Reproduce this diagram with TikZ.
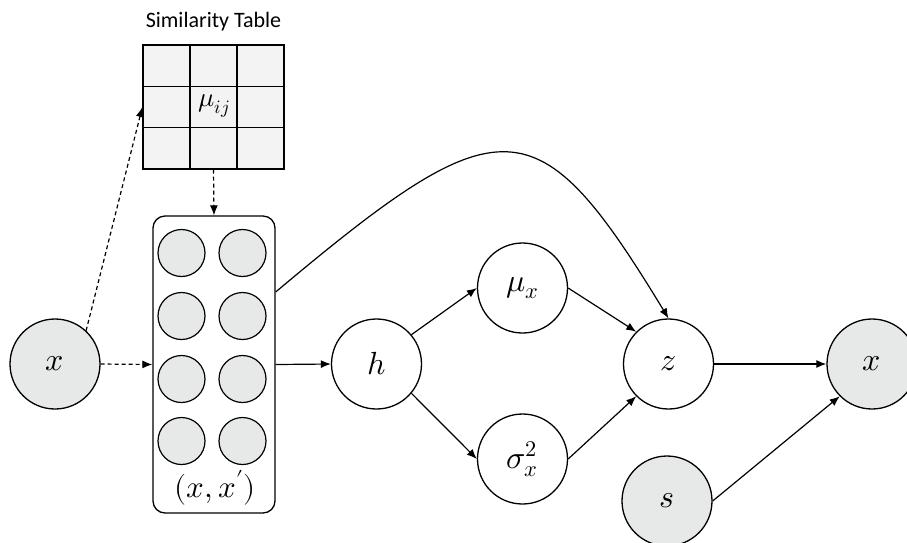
\documentclass[tikz,border=0pt]{standalone}
\usepackage{fontspec}
\usepackage{unicode-math}
\setmathfont{Latin Modern Math}
\newfontfamily\carl{Carlito}
\usetikzlibrary{arrows.meta}
\definecolor{obsgray}{RGB}{231,232,232}
\definecolor{tabgray}{RGB}{243,243,243}
\begin{document}
\begin{tikzpicture}[x=1pt,y=-1pt,
  vnode/.style={circle, draw, line width=1.3pt, minimum size=90pt, inner sep=0pt, font=\fontsize{32}{36}\selectfont},
  obs/.style={vnode, fill=obsgray},
  unit/.style={circle, draw, line width=1.2pt, fill=obsgray, minimum size=47pt, inner sep=0pt},
  arr/.style={-{Latex[length=10pt,width=8pt]}, line width=1.2pt},
  dsh/.style={arr, dash pattern=on 4pt off 3pt}]
\clip (0,0) rectangle (907,542);
\fill[white] (0,0) rectangle (907,542);
% similarity table
\node[draw, line width=1.3pt, fill=tabgray, minimum width=141pt, minimum height=124pt, inner sep=0pt] (tab) at (213.5,107) {};
\foreach \xx in {190,237} \draw[line width=1.2pt] (\xx,45) -- (\xx,169);
\foreach \yy in {86.3,127.7} \draw[line width=1.2pt] (143,\yy) -- (284,\yy);
\node[font=\fontsize{27}{30}\selectfont] (muij) at (214,106) {$\mu_{ij}$};
\node[font=\carl\fontsize{22}{26}\selectfont] (title) at (213.5,22) {Similarity Table};
% pair box
\node[draw, line width=1.3pt, rounded corners=12pt, minimum width=122pt, minimum height=297pt, inner sep=0pt] (box) at (214,364.5) {};
\foreach \r/\yy in {1/253,2/316,3/379,4/441} {
  \node[unit] (a\r) at (181.5,\yy) {};
  \node[unit] (b\r) at (242.5,\yy) {};
}
\node[font=\fontsize{31}{34}\selectfont] (pairlab) at (215,488) {$(x,x')$};
% variables
\node[obs] (xin) at (55,364) {$x$};
\node[vnode] (h) at (376.5,364) {$h$};
\node[vnode] (mu) at (522.5,288) {$\mu_x$};
\node[vnode] (sig) at (522.5,459) {$\sigma_x^2$};
\node[vnode] (z) at (668.5,364) {$z$};
\node[obs] (xout) at (872,364) {$x$};
\node[obs] (s) at (667,501) {$s$};
% connectors
\draw[dsh] (xin.east) -- (box.west);
\draw[dsh] (xin.47) -- (tab.west);
\draw[dsh] (tab.south) -- (box.north);
\draw[arr] (box.east) -- (h.west);
\draw[arr] (h.40) -- (mu.west);
\draw[arr] (h.-40) -- (sig.west);
\draw[arr] (mu.east) -- (z.135);
\draw[arr] (sig.east) -- (z.225);
\draw[arr] ([yshift=72.5pt]box.east) .. controls (502,102) and (537,102) .. (z.north);
\draw[arr] (z.east) -- (xout.west);
\draw[arr] (s.east) -- (xout.225);
\end{tikzpicture}
\end{document}
